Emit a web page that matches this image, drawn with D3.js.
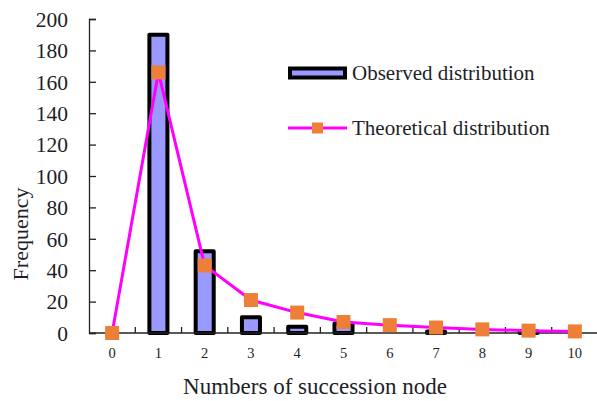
<!DOCTYPE html>
<html>
<head>
<meta charset="utf-8">
<script src="https://cdn.jsdelivr.net/npm/d3@7/dist/d3.min.js"></script>
<style>
    body { margin: 0; background: #fff; }
    svg { display: block; font-family: "Liberation Serif", "Times New Roman", serif; }
</style>
</head>
<body>
<svg id="chart" width="597" height="401"></svg>
<script>
const categories = ["0", "1", "2", "3", "4", "5", "6", "7", "8", "9", "10"];
const observed = [0, 190, 52, 10, 4, 6, 0, 1, 0, 1, 0];
const theoretical = [0, 166, 43, 21, 13, 7, 5, 3.5, 2.3, 1.5, 1];
const yTicks = [0, 20, 40, 60, 80, 100, 120, 140, 160, 180, 200];
const legendLabels = ["Observed distribution", "Theoretical distribution"];

const margins = {top: 19, right: 0, bottom: 68, left: 89};
const width = 597, height = 401;
const svg = d3.select("#chart");

const xScale = d3.scaleBand()
    .domain(categories)
    .range([margins.left, 598])
    .paddingInner(0.61)
    .paddingOuter(0.305);
const yScale = d3.scaleLinear()
    .domain([0, 200])
    .range([height - margins.bottom, margins.top]);

const textColor = "#1e1e28";

// bars
svg.append("g").selectAll("rect")
    .data(observed)
    .enter()
    .append("rect")
    .attr("x", (d, i) => xScale(categories[i]))
    .attr("y", d => yScale(d))
    .attr("width", xScale.bandwidth())
    .attr("height", d => yScale(0) - yScale(d))
    .attr("fill", "#9999ff")
    .attr("stroke", d => d > 0 ? "#000" : "none")
    .attr("stroke-width", 4)
    .attr("stroke-linejoin", "round");

// axes
const yAxis = d3.axisLeft(yScale).tickValues(yTicks).tickSize(-7).tickPadding(21).tickFormat(d3.format("d"));
const gy = svg.append("g").attr("transform", `translate(${margins.left},0)`).call(yAxis);
gy.select(".domain").attr("stroke", "#222").attr("stroke-width", 1.3);
gy.selectAll(".tick line").attr("stroke", "#222").attr("stroke-width", 1.3);
gy.selectAll(".tick text")
    .attr("font-size", 21.5)
    .attr("fill", textColor)
    .attr("font-family", "Liberation Serif")
    .attr("dy", "0.34em");

const xAxisY = yScale(0);
svg.append("line")
    .attr("x1", margins.left).attr("x2", width)
    .attr("y1", xAxisY).attr("y2", xAxisY)
    .attr("stroke", "#222").attr("stroke-width", 1.3);

// boundary ticks between categories
const step = xScale.step();
const gap = step - xScale.bandwidth();
svg.append("g").selectAll("line")
    .data(categories.slice(1))
    .enter()
    .append("line")
    .attr("x1", d => xScale(d) - gap / 2)
    .attr("x2", d => xScale(d) - gap / 2)
    .attr("y1", xAxisY)
    .attr("y2", xAxisY - 6)
    .attr("stroke", "#222")
    .attr("stroke-width", 1.3);

svg.append("g").selectAll("text")
    .data(categories)
    .enter()
    .append("text")
    .attr("x", d => xScale(d) + xScale.bandwidth() / 2)
    .attr("y", xAxisY + 25)
    .attr("text-anchor", "middle")
    .attr("font-size", 14.5)
    .attr("fill", textColor)
    .text(d => d);

// theoretical line
const cx = (d, i) => xScale(categories[i]) + xScale.bandwidth() / 2;
const line = d3.line().x(cx).y(d => yScale(d));
svg.append("path")
    .datum(theoretical)
    .attr("d", line)
    .attr("fill", "none")
    .attr("stroke", "#ff00ff")
    .attr("stroke-width", 3);

const ms = 14;
svg.append("g").selectAll("rect")
    .data(theoretical)
    .enter()
    .append("rect")
    .attr("x", (d, i) => cx(d, i) - ms / 2)
    .attr("y", d => yScale(d) - ms / 2)
    .attr("width", ms)
    .attr("height", ms)
    .attr("fill", "#ee7f38");

// axis titles
svg.append("text")
    .attr("transform", "translate(28,234) rotate(-90)")
    .attr("text-anchor", "middle")
    .attr("font-size", 22)
    .attr("fill", textColor)
    .text("Frequency");

svg.append("text")
    .attr("x", 315)
    .attr("y", 394)
    .attr("text-anchor", "middle")
    .attr("font-size", 23)
    .attr("fill", textColor)
    .text("Numbers of succession node");

// legend
const legend = svg.append("g");
legend.append("rect")
    .attr("x", 290).attr("y", 68.5)
    .attr("width", 55).attr("height", 9)
    .attr("fill", "#9999ff")
    .attr("stroke", "#000")
    .attr("stroke-width", 4);
legend.append("line")
    .attr("x1", 288).attr("x2", 347)
    .attr("y1", 128).attr("y2", 128)
    .attr("stroke", "#ff00ff")
    .attr("stroke-width", 3);
legend.append("rect")
    .attr("x", 312).attr("y", 122.5)
    .attr("width", 11).attr("height", 11)
    .attr("fill", "#ee7f38");
legend.selectAll("text")
    .data(legendLabels)
    .enter()
    .append("text")
    .attr("x", 352)
    .attr("y", (d, i) => i === 0 ? 80 : 135)
    .attr("font-size", 21)
    .attr("fill", textColor)
    .text(d => d);
</script>
</body>
</html>
